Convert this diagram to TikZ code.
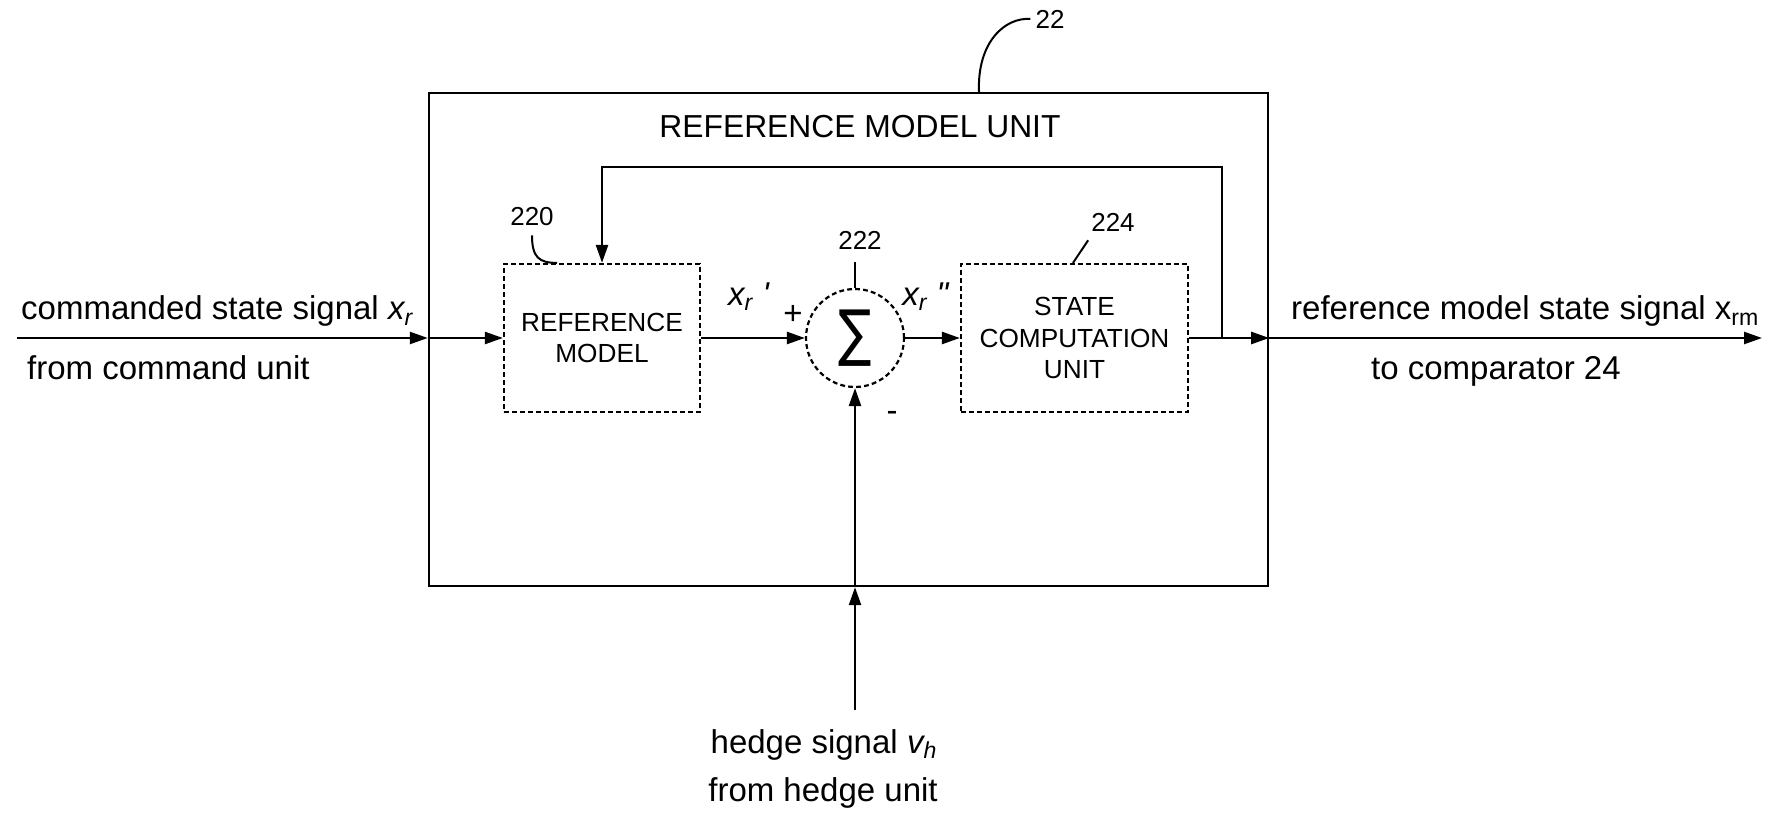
\documentclass[tikz,border=0pt]{standalone}
\usepackage{fontspec}
\setmainfont{Liberation Sans}
\newfontfamily\dejavu{DejaVu Sans}
\usetikzlibrary{arrows.meta}
\begin{document}
\begin{tikzpicture}[x=0.5pt,y=-0.5pt, line width=1.2pt,
  >={Triangle[length=9pt,width=6pt]},
  lbl/.style={font=\fontsize{16.5}{19}\selectfont, inner sep=0pt},
  blk/.style={draw, dash pattern=on 2.4pt off 1.6pt, line width=1.1pt, align=center,
    font=\fontsize{13.1}{15.8}\selectfont, inner sep=0pt},
  num/.style={font=\fontsize{13}{15}\selectfont, inner sep=0pt},
  leader/.style={line width=1pt}]
\useasboundingbox (0,0) rectangle (1775,817);
% outer unit
\node[draw, minimum width=419.5pt, minimum height=246.5pt, inner sep=0pt] (rmu) at (848.5,339.5) {};
\node[font=\fontsize{15.9}{18}\selectfont, inner sep=0pt] (title) at (860,127) {REFERENCE MODEL UNIT};
% blocks
\node[blk, minimum width=98pt, minimum height=74pt] (refm) at (602,338) {REFERENCE\\MODEL};
\node[blk, circle, minimum size=49pt] (sum) at (855,338) {\scalebox{0.8}[1]{\fontsize{31}{31}\selectfont\dejavu ∑}};
\node[blk, minimum width=113.5pt, minimum height=74pt] (scu) at (1074.5,338) {STATE\\COMPUTATION\\UNIT};
% coordinates
\coordinate (cin) at (17,338);
\coordinate (out) at (1762,338);
\coordinate (fb) at (1222,338);
\coordinate (fbtop) at (1222,167);
\coordinate (hin) at (855,710);
% connectors
\draw[->] (cin) -- (cin -| rmu.west);
\draw[->] (cin -| rmu.west) -- (refm.west);
\draw[->] (refm.east) -- (sum.west);
\draw[->] (sum.east) -- (scu.west);
\draw[->] (scu.east) -- (scu.east -| rmu.east);
\draw[->] (scu.east -| rmu.east) -- (out);
\draw[->] (fb) -- (fbtop) -| (refm.north);
\draw[->] (hin) -- (hin |- rmu.south);
\draw[->] (hin |- rmu.south) -- (sum.south);
% signal labels
\node[lbl, anchor=base west] (t1) at (20,320) {commanded state signal \textit{x\textsubscript{r}}};
\node[lbl, anchor=base west] (t2) at (26,380) {from command unit};
\node[lbl, anchor=base west] (t3) at (1290,320) {reference model state signal x\textsubscript{rm}};
\node[lbl, anchor=base west] (t4) at (1370,380) {to comparator 24};
\node[lbl, anchor=base] (t5) at (824,753) {hedge signal \textit{v\textsubscript{h}}};
\node[lbl, anchor=base] (t6) at (823,801) {from hedge unit};
\node[lbl] (xp) at (749,297) {\textit{x\textsubscript{r}~\textquotesingle}};
\node[lbl] (xpp) at (926,297) {\textit{x\textsubscript{r}~\textquotedbl}};
\node[lbl] (plus) at (793,315) {+};
\node[lbl] (minus) at (892,416) {-};
% reference numerals
\node[num, inner sep=2pt] (n22) at (1050,19) {22};
\node[num] (n220) at (532,217) {220};
\node[num] (n222) at (860,240) {222};
\node[num] (n224) at (1113,222) {224};
\draw[leader] ([xshift=65.25pt]rmu.north) .. controls +(-2,-50) and +(-25,-2) .. (n22.west);
\draw[leader] ([yshift=-4pt]n220.south) .. controls +(0,22) and +(-18,0) .. ([xshift=-22.5pt]refm.north);
\draw[leader] ([yshift=-6pt]n222.south -| sum.north) -- (sum.north);
\draw[leader] ([xshift=-1pt,yshift=-4pt]n224.south west) -- ([xshift=-0.75pt]scu.north);
\end{tikzpicture}
\end{document}
